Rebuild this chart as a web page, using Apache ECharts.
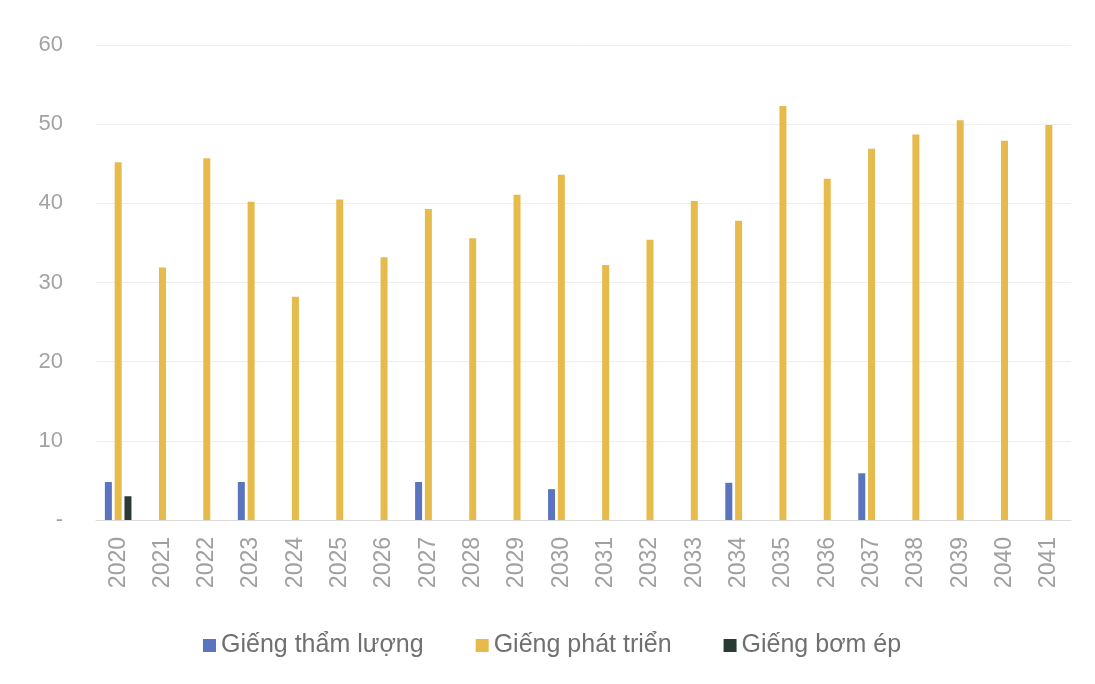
<!DOCTYPE html>
<html lang="vi">
<head>
    <meta charset="UTF-8">
    <script src="https://cdn.jsdelivr.net/npm/echarts@6/dist/echarts.min.js"></script>
    <title>Giếng</title>
    <style>
        body { margin: 0; background: #fff; }
        #main { width: 1095px; height: 684px; }
    </style>
</head>
<body>
<div id="main"></div>
<script type="text/javascript">
    var years = ['2020', '2021', '2022', '2023', '2024', '2025', '2026', '2027', '2028', '2029', '2030',
        '2031', '2032', '2033', '2034', '2035', '2036', '2037', '2038', '2039', '2040', '2041'];
    // giếng thẩm lượng
    var thamLuong = [4.8, null, null, 4.8, null, null, null, 4.8, null, null, 3.9,
        null, null, null, 4.7, null, null, 5.9, null, null, null, null];
    // giếng phát triển
    var phatTrien = [45.2, 31.9, 45.7, 40.2, 28.2, 40.5, 33.2, 39.3, 35.6, 41.1, 43.6,
        32.2, 35.4, 40.3, 37.8, 52.3, 43.1, 46.9, 48.7, 50.5, 47.9, 49.9];
    // giếng bơm ép
    var bomEp = [3.0, null, null, null, null, null, null, null, null, null, null,
        null, null, null, null, null, null, null, null, null, null, null];

    var myChart = echarts.init(document.getElementById('main'));

    var option = {
        backgroundColor: '#fff',
        textStyle: { fontFamily: 'Liberation Sans, Arial, sans-serif' },
        grid: { left: 96, right: 24, top: 45, bottom: 164 },
        legend: {
            top: 628,
            left: 198,
            itemWidth: 13,
            itemHeight: 13,
            itemGap: 52,
            icon: 'rect',
            textStyle: { fontSize: 25, color: '#707070' },
            data: ['Giếng thẩm lượng', 'Giếng phát triển', 'Giếng bơm ép']
        },
        xAxis: {
            type: 'category',
            data: years,
            axisLine: { lineStyle: { color: '#dadada' } },
            axisTick: { show: false },
            axisLabel: { rotate: 90, fontSize: 23, color: '#a0a0a0', margin: 17 }
        },
        yAxis: {
            type: 'value',
            min: 0,
            max: 60,
            interval: 10,
            axisLine: { show: false },
            axisTick: { show: false },
            axisLabel: {
                fontSize: 22, color: '#a3a3a3', margin: 33,
                formatter: function (v) { return v === 0 ? '-' : v; }
            },
            splitLine: { lineStyle: { color: '#eeeeee' } }
        },
        series: [
            {
                name: 'Giếng thẩm lượng', type: 'bar', data: thamLuong,
                barWidth: 7, barGap: '40%', itemStyle: { color: '#5b74bf' }
            },
            {
                name: 'Giếng phát triển', type: 'bar', data: phatTrien,
                barWidth: 7, barGap: '40%', itemStyle: { color: '#e6bb4c' }
            },
            {
                name: 'Giếng bơm ép', type: 'bar', data: bomEp,
                barWidth: 7, barGap: '40%', itemStyle: { color: '#2a3b36' }
            }
        ]
    };

    myChart.setOption(option);
</script>
</body>
</html>
